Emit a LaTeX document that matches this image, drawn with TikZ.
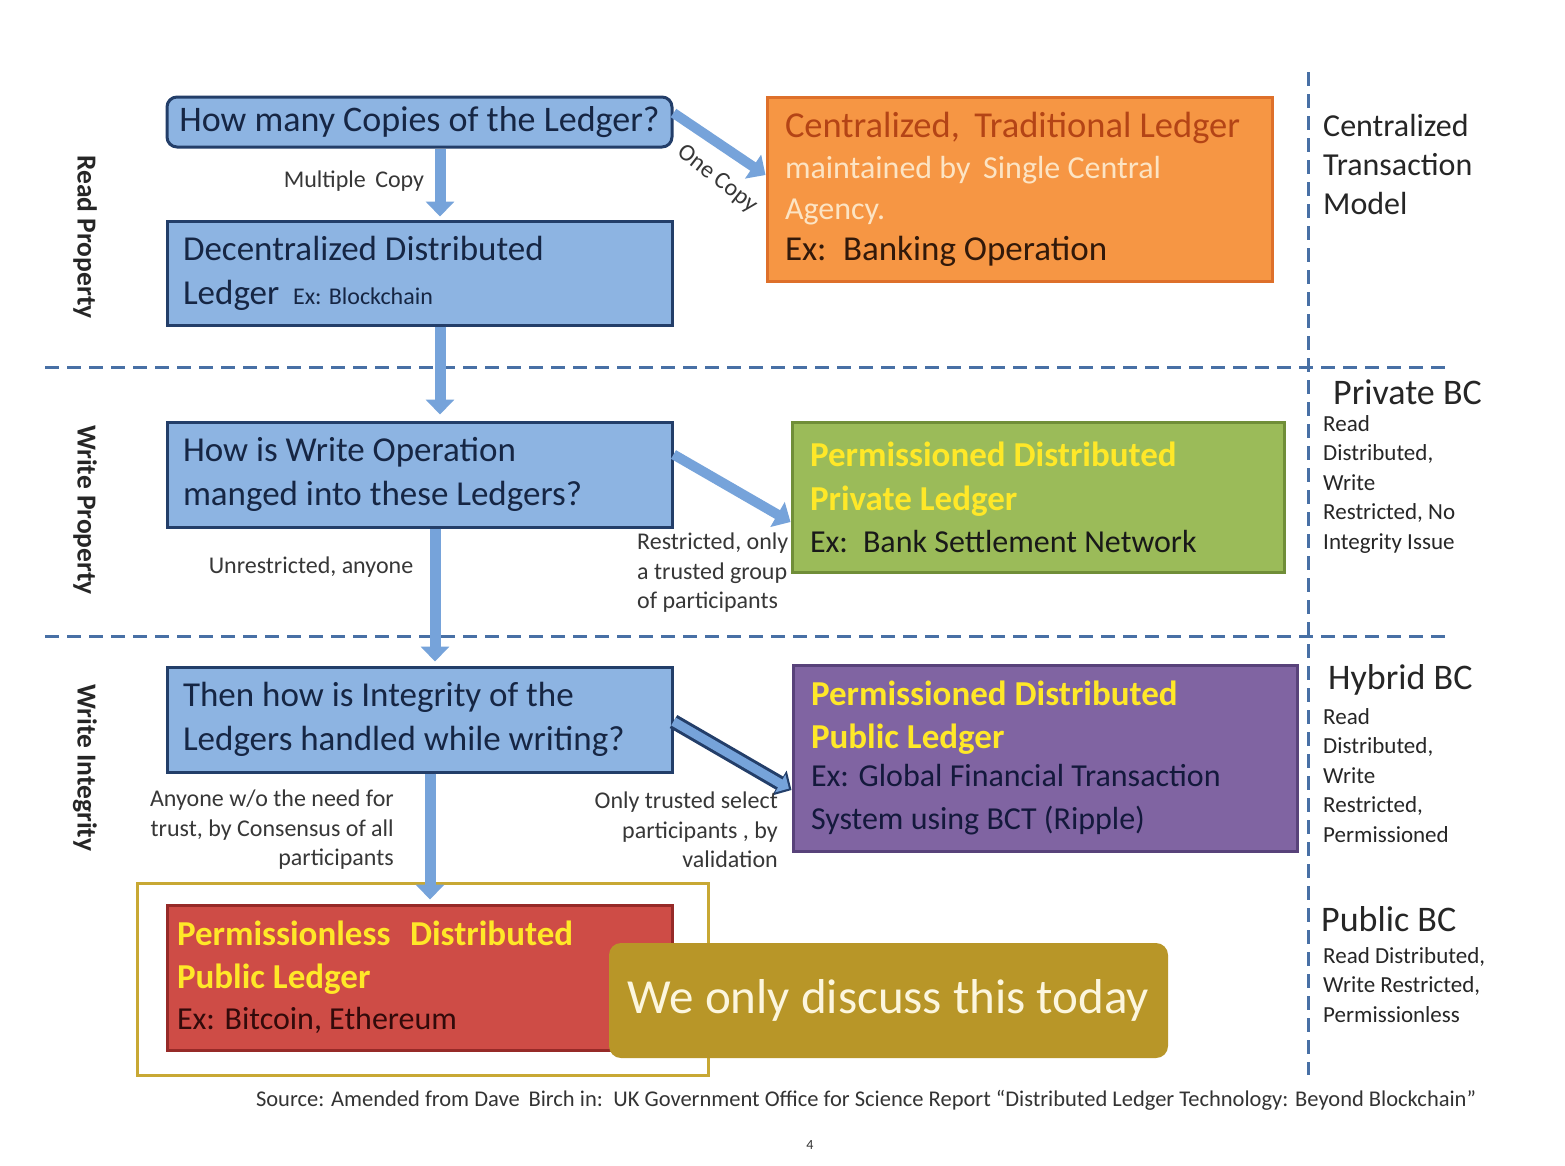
\documentclass[tikz,border=0pt]{standalone}
\usepackage{fontspec}
\setmainfont{Carlito}
\usetikzlibrary{arrows.meta}
\definecolor{bfill}{RGB}{141,180,226}
\definecolor{bdraw}{RGB}{35,62,105}
\definecolor{btext}{RGB}{22,38,68}
\definecolor{arrowc}{RGB}{118,163,218}
\definecolor{dashc}{RGB}{72,112,165}
\definecolor{ofill}{RGB}{246,150,68}
\definecolor{odraw}{RGB}{222,112,42}
\definecolor{otitle}{RGB}{180,68,22}
\definecolor{ocream}{RGB}{252,228,196}
\definecolor{odark}{RGB}{50,25,10}
\definecolor{gfill}{RGB}{155,187,89}
\definecolor{gdraw}{RGB}{112,142,56}
\definecolor{yel}{RGB}{255,232,40}
\definecolor{pfill}{RGB}{128,100,162}
\definecolor{pdraw}{RGB}{88,66,122}
\definecolor{ptext}{RGB}{20,25,60}
\definecolor{rfill}{RGB}{206,76,70}
\definecolor{rdraw}{RGB}{150,42,40}
\definecolor{rtext}{RGB}{50,10,10}
\definecolor{gold}{RGB}{184,150,40}
\definecolor{goldframe}{RGB}{200,168,52}
\definecolor{cream}{RGB}{252,246,222}
\definecolor{lbl}{RGB}{55,55,55}
\newcommand\fz[2]{\fontsize{#1pt}{#2pt}\selectfont}
\tikzset{
  bluebox/.style={draw=bdraw, line width=3pt, fill=bfill, text=btext, inner xsep=16pt, inner ysep=0pt, align=flush left},
  colbox/.style={line width=3pt, inner xsep=18pt, inner ysep=0pt, align=flush left},
  arr/.style={draw=arrowc, line width=11pt, -{Triangle[length=15pt,width=28pt]}},
  sep/.style={draw=dashc, line width=3pt, dash pattern=on 14pt off 8pt},
  lab/.style={text=lbl, font=\fz{24}{29.5}, inner sep=0pt},
  side/.style={text=black!85, inner sep=0pt, align=left, anchor=west},
  sidesmall/.style={text=black!85, inner sep=0pt, align=left, anchor=north west, font=\fz{23}{29.5}},
  vlab/.style={rotate=-90, font=\bfseries\fz{27.5}{30}, text=black!85, inner sep=0pt}
}
\begin{document}
\begin{tikzpicture}[x=1pt,y=-1pt]
\useasboundingbox (0,0) rectangle (1565,1165);
\fill[white] (0,0) rectangle (1565,1165);

% separators
\coordinate (h1a) at (45,367); \coordinate (h1b) at (1445,367);
\coordinate (h2a) at (45,636); \coordinate (h2b) at (1445,636);
\coordinate (vt) at (1308,72); \coordinate (vb) at (1308,1075);
\draw[sep] (h1a) -- (h1b);
\draw[sep] (h2a) -- (h2b);
\draw[sep] (vt) -- (vb);

% left blue question boxes
\node[bluebox, rounded corners=10pt, minimum width=505pt, minimum height=50pt, inner xsep=4pt, align=center, font=\fz{36}{40}]
  (q1) at (419.5,122) {How many Copies of the Ledger?};
\node[bluebox, minimum width=505pt, minimum height=104pt, text width=473pt, font=\fz{35}{44}]
  (dl) at (419.5,273) {Decentralized Distributed\\Ledger\, {\fz{24}{44}Ex: Blockchain}};
\node[bluebox, minimum width=505pt, minimum height=105pt, text width=473pt, font=\fz{35}{44}]
  (wq) at (419.5,474.5) {How is Write Operation\\manged into these Ledgers?};
\node[bluebox, minimum width=505pt, minimum height=105pt, text width=473pt, font=\fz{35}{44}]
  (iq) at (419.5,719.5) {Then how is Integrity of the\\Ledgers handled while writing?};

% right coloured boxes
\node[colbox, draw=odraw, fill=ofill, minimum width=505pt, minimum height=184pt, text width=469pt, font=\fz{32}{41}]
  (ob) at (1019.5,189) {{\fz{36.5}{41}\color{otitle}Centralized,\, Traditional Ledger}\\
  {\color{ocream}maintained by\, Single Central\\Agency.}\\
  {\fz{35}{41}\color{odark}Ex:\, Banking Operation}};
\node[colbox, draw=gdraw, fill=gfill, minimum width=492pt, minimum height=150pt, text width=456pt, font=\fz{35}{44}]
  (gb) at (1038,497) {{\bfseries\color{yel}Permissioned Distributed\\Private Ledger}\\[-2pt]
  {\fz{32}{42}\color{black!90}Ex:\, Bank Settlement Network}};
\node[colbox, draw=pdraw, fill=pfill, minimum width=504pt, minimum height=186pt, text width=468pt, font=\fz{35}{43}]
  (pb) at (1045,758) {{\bfseries\color{yel}Permissioned Distributed\\Public Ledger}\\[-2pt]
  {\fz{32}{40}\color{ptext}Ex: Global Financial Transaction\\System using BCT (Ripple)}};

% bottom frame, red box, callout
\node[draw=goldframe, line width=3pt, minimum width=571pt, minimum height=192pt, inner sep=0pt]
  (fr) at (422.5,979) {};
\node[colbox, draw=rdraw, fill=rfill, minimum width=505pt, minimum height=145pt, text width=485pt, inner xsep=10pt, font=\fz{35}{43}]
  (rb) at (419.5,977.5) {{\bfseries\color{yel}Permissionless\,\, Distributed\\Public Ledger}\\[-2pt]
  {\fz{32}{41}\color{rtext}Ex: Bitcoin, Ethereum}};
\node[fill=gold, rounded corners=12pt, minimum width=559pt, minimum height=115pt, inner sep=0pt, text=cream, font=\fz{49}{56}]
  (co) at (888.5,1000.5) {We only discuss this today};

% arrows
\draw[arr] ([xshift=20.5pt]q1.south) -- ([xshift=20.5pt,yshift=3pt]dl.north);
\draw[arr] ([xshift=20.5pt]dl.south) -- ([xshift=20.5pt,yshift=6pt]wq.north);
\draw[arr] ([xshift=15.5pt]wq.south) -- ([xshift=15.5pt,yshift=4pt]iq.north);
\draw[arr] ([xshift=10.5pt]iq.south) -- ([xshift=10.5pt,yshift=4pt]rb.north);
\draw[arr, line width=10pt] ([yshift=9pt]q1.east) -- ([yshift=14pt]ob.west);
\draw[arr, line width=10pt] ([yshift=20pt]wq.east) -- ([yshift=-25pt]gb.west);
\draw[draw=bdraw, line width=15pt, -{Triangle[length=14pt,width=28pt]}] ([yshift=-2pt]iq.east) -- ([yshift=-32pt]pb.west);
\draw[draw=arrowc, line width=9pt, shorten >=3pt, -{Triangle[length=10pt,width=20pt]}] ([yshift=-2pt]iq.east) -- ([yshift=-32pt]pb.west);

% connector labels
\node[lab] (lmc) at (354,181) {Multiple\, Copy};
\node[lab, rotate=-38] (loc) at (717,179) {One Copy};
\node[lab] (lun) at (311,567) {Unrestricted, anyone};
\node[lab, align=left, anchor=west] (lre) at (637,573) {Restricted, only\\a trusted group\\of participants};
\node[lab, align=right, anchor=east] (lan) at (394,830) {Anyone w/o the need for\\trust, by Consensus of all\\participants};
\node[lab, align=right, anchor=east] (lot) at (778,830) {Only trusted select\\participants , by\\validation};

% left row labels
\node[vlab] (vr) at (85,237) {Read Property};
\node[vlab] (vw) at (85,510) {Write Property};
\node[vlab] (vi) at (85,768) {Write Integrity};

% right column
\node[side, font=\fz{32}{39}] (rc) at (1323,164) {Centralized\\Transaction\\Model};
\node[side, font=\fz{36}{40}] (rp) at (1333,392) {Private BC};
\node[sidesmall] (rps) at (1323,415) {Read\\Distributed,\\Write\\Restricted, No\\Integrity Issue};
\node[side, font=\fz{36}{40}] (rh) at (1328,680) {Hybrid BC};
\node[sidesmall] (rhs) at (1323,708) {Read\\Distributed,\\Write\\Restricted,\\Permissioned};
\node[side, font=\fz{36}{40}] (ru) at (1321,919) {Public BC};
\node[sidesmall] (rus) at (1323,947) {Read Distributed,\\Write Restricted,\\Permissionless};

% footer
\node[inner sep=0pt, text=black!80, font=\fz{22.5}{26}] (src) at (866,1100) {Source: Amended from Dave\, Birch in:\, UK Government Office for Science Report “Distributed Ledger Technology: Beyond Blockchain”};
\node[inner sep=0pt, text=black!80, font=\fz{14}{16}] (pg) at (810,1145) {4};
\end{tikzpicture}
\end{document}
